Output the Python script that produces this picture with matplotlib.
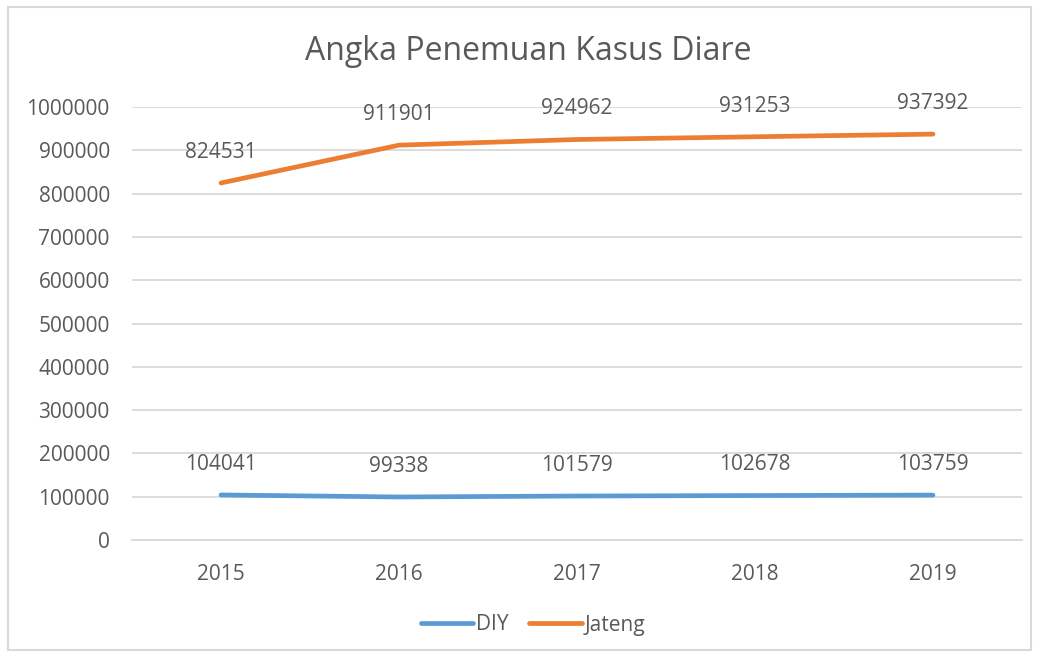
import matplotlib.pyplot as plt
from matplotlib.patches import Rectangle

years = ['2015', '2016', '2017', '2018', '2019']
diy = [104041, 99338, 101579, 102678, 103759]
jateng = [824531, 911901, 924962, 931253, 937392]

TEXT = '#595959'
GRID = '#d9d9d9'

plt.rcParams['font.family'] = ['Open Sans', 'DejaVu Sans']

W, H = 1038, 655
fig = plt.figure(figsize=(W / 100, H / 100), dpi=100)
ax = fig.add_axes([132 / W, (H - 540) / H, 890 / W, 433 / H])

# chart outer border
fig.patches.append(Rectangle((8 / W, 5 / H), 1023 / W, 643 / H, transform=fig.transFigure,
                             fill=False, edgecolor=GRID, linewidth=1.5))

x = range(len(years))
ax.plot(x, diy, color='#5B9BD5', linewidth=3.4, solid_capstyle='round', label='DIY', zorder=3)
ax.plot(x, jateng, color='#ED7D31', linewidth=3.4, solid_capstyle='round', label='Jateng', zorder=3)

for series in (diy, jateng):
    for i, v in enumerate(series):
        ax.annotate(str(v), (i, v), xytext=(0, 22), textcoords='offset points',
                    ha='center', va='center', fontsize=15, color=TEXT)

ax.set_xlim(-0.5, 4.5)
ax.set_ylim(0, 1000000)
ax.set_yticks(range(0, 1000001, 100000))
ax.set_yticklabels([str(v) for v in range(0, 1000001, 100000)])
ax.set_xticks(list(x))
ax.set_xticklabels(years)
ax.grid(axis='y', color=GRID, linewidth=1.3)
ax.set_axisbelow(True)
for s in ('top', 'right', 'left'):
    ax.spines[s].set_visible(False)
ax.spines['bottom'].set_color(GRID)
ax.spines['bottom'].set_linewidth(1.3)
ax.tick_params(axis='both', length=0, labelsize=15, labelcolor=TEXT)
ax.tick_params(axis='y', pad=16)
ax.tick_params(axis='x', pad=17)

fig.text(528 / W, 1 - 52 / H, 'Angka Penemuan Kasus Diare', ha='center', va='center',
         fontsize=23, color=TEXT)

fig.legend(loc='center', bbox_to_anchor=(533 / W, 1 - 625 / H), ncol=2, frameon=False,
           fontsize=15, labelcolor=TEXT, handlelength=2.5, handletextpad=0.15, columnspacing=1.0)

fig.savefig('out.png', dpi=100)
